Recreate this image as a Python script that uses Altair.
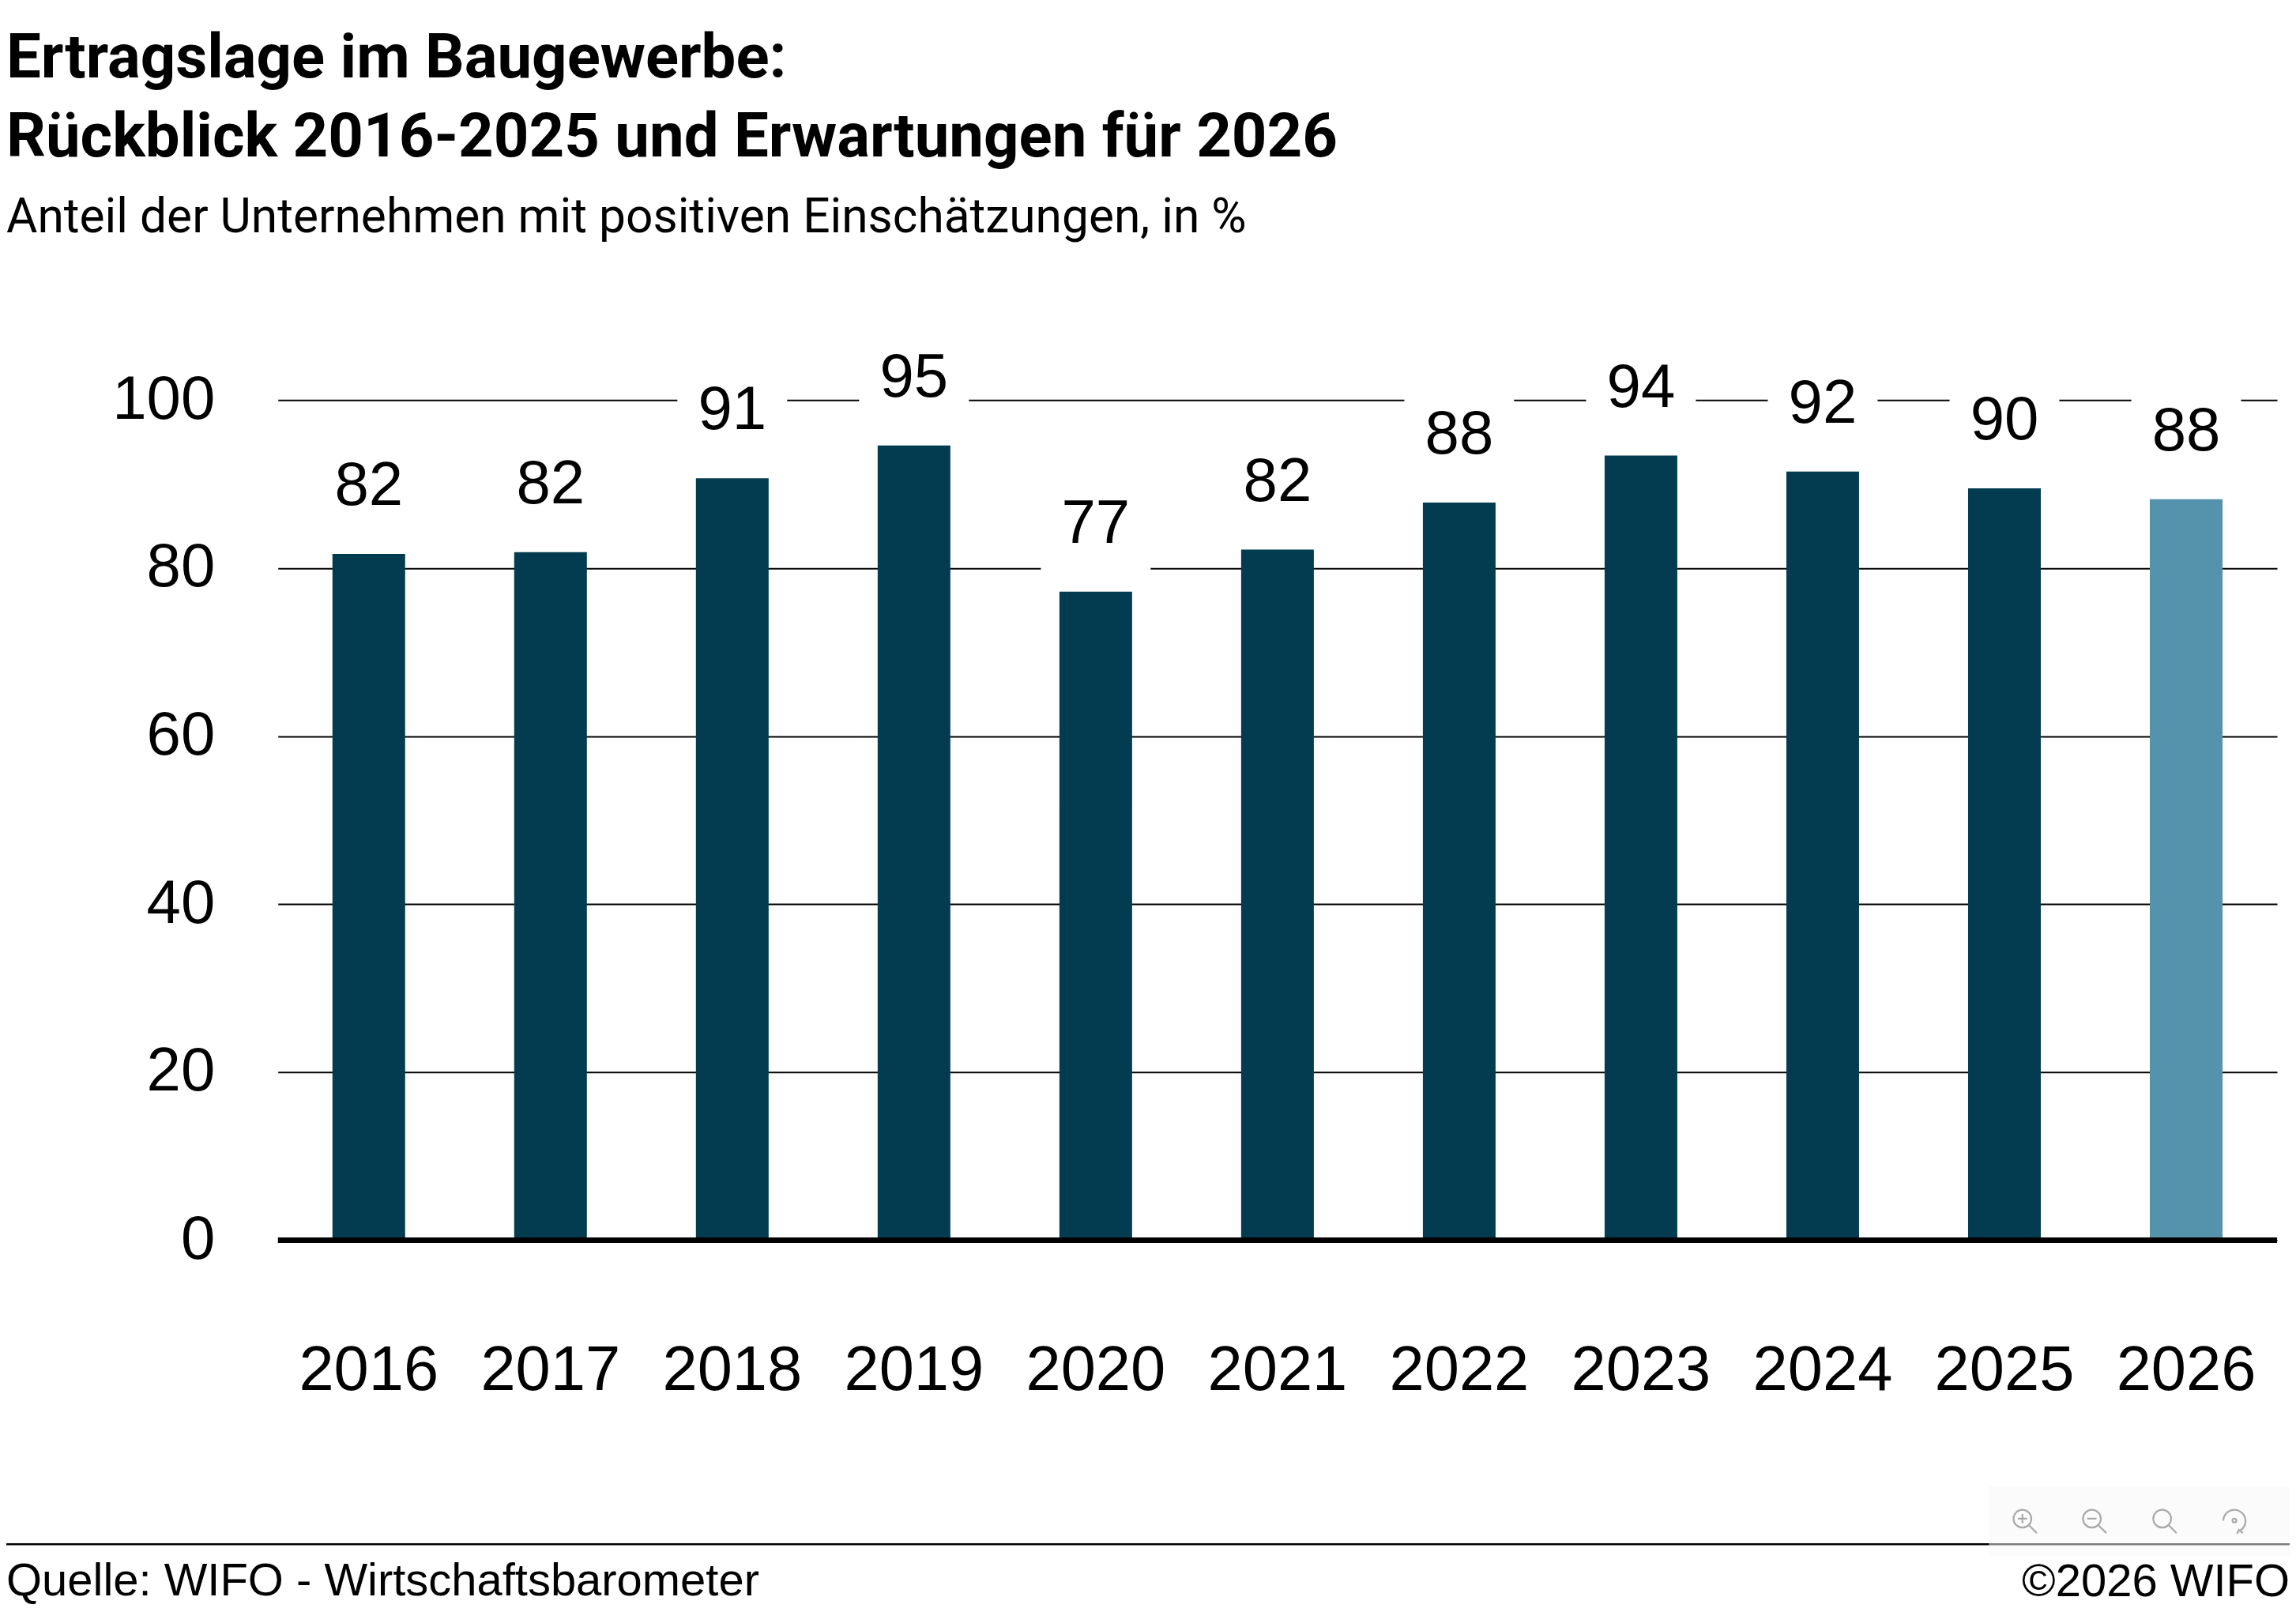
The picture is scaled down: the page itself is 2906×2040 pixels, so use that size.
import altair as alt
import pandas as pd

years = ["2016","2017","2018","2019","2020","2021","2022","2023","2024","2025","2026"]
values = [81.7,81.9,90.7,94.6,77.2,82.2,87.8,93.4,91.5,89.5,88.2]
labels = ["82","82","91","95","77","82","88","94","92","90","88"]
kinds = ["Rückblick"]*10 + ["Erwartung"]
title_lines = ["Ertragslage im Baugewerbe:", "Rückblick 2016-2025 und Erwartungen für 2026"]
subtitle = "Anteil der Unternehmen mit positiven Einschätzungen, in %"
source = "Quelle: WIFO - Wirtschaftsbarometer"
copyright_text = "©2026 WIFO"

FONT = "Liberation Sans"
TFONT = "Roboto"
PLOT_W, PLOT_H = 2532, 1064
LEFT = 344
DARK, LIGHT = "#033c50", "#5592ab"

df = pd.DataFrame({"year": years, "value": values, "label": labels, "kind": kinds})

x = alt.X("year:N", title=None, sort=years,
          scale=alt.Scale(paddingInner=0.6, paddingOuter=0.3),
          axis=alt.Axis(domain=False, ticks=False, labelAngle=0, labelFont=FONT, labelFontSize=79.5,
                        labelColor="black", labelPadding=126, labelBaseline="top", labelOverlap=False))
y = alt.Y("value:Q", title=None, scale=alt.Scale(domain=[0, 100]),
          axis=alt.Axis(values=[0,20,40,60,80,100], domain=False, ticks=False, labelFont=FONT, labelFontSize=78,
                        labelColor="black", labelPadding=80, grid=True, gridColor="black", gridWidth=2))

base = alt.Chart(df)
bars = base.mark_bar(clip=False).encode(
    x=x, y=y,
    color=alt.Color("kind:N", legend=None,
                    scale=alt.Scale(domain=["Rückblick","Erwartung"], range=[DARK, LIGHT])))
halo = base.mark_square(size=19321, color="white", opacity=1, yOffset=-87).encode(
    x=alt.X("year:N", sort=years), y=alt.Y("value:Q"))
text = base.mark_text(font=FONT, fontSize=78, color="black", dy=-85, baseline="middle").encode(
    x=alt.X("year:N", sort=years), y=alt.Y("value:Q"), text="label:N")
zero = alt.Chart(pd.DataFrame({"z": [0]})).mark_rule(color="black", strokeWidth=7).encode(y="z:Q")

rule = alt.Chart(pd.DataFrame({"t": [source]})).mark_rule(color="black", strokeWidth=2.5).encode(
    x=alt.value(-LEFT), x2=alt.value(2548), y=alt.value(1449))
src = alt.Chart(pd.DataFrame({"t": [source]})).mark_text(font=FONT, fontSize=58, color="black", align="left", baseline="alphabetic").encode(
    x=alt.value(-LEFT), y=alt.value(1514), text="t:N")
cpr = alt.Chart(pd.DataFrame({"t": [copyright_text]})).mark_text(font=FONT, fontSize=58, color="black", align="right", baseline="alphabetic").encode(
    x=alt.value(2548), y=alt.value(1515), text="t:N")
box = alt.Chart(pd.DataFrame({"t": ["toolbar"]})).mark_rect(fill="#f7f7f7", opacity=0.5).encode(
    x=alt.value(2167), x2=alt.value(2548), y=alt.value(1376), y2=alt.value(1464))

ring = "M0.53,-0.15A0.68,0.68,0,1,1,-0.83,-0.15A0.68,0.68,0,1,1,0.53,-0.15Z"
handle = "M0.35,0.35L0.95,0.95"
icons = {
    "zoom-in": ring + handle + "M-0.5,-0.15L0.2,-0.15M-0.15,-0.5L-0.15,0.2",
    "zoom-out": ring + handle + "M-0.5,-0.15L0.2,-0.15",
    "zoom-reset": ring + handle,
    "rotate": "M-0.85,0.0A0.85,0.85,0,1,1,0.35,0.8M0.2,1.0L0.35,0.7L0.65,0.95M0.15,0A0.15,0.15,0,1,1,-0.15,0A0.15,0.15,0,1,1,0.15,0Z",
}
icon_x = [2212, 2300, 2389, 2478]
icon_layers = [
    alt.Chart(pd.DataFrame({"n": [name]})).mark_point(shape=path, size=1100, filled=False, stroke="#aaaaaa", strokeWidth=2.2, opacity=1).encode(
        x=alt.value(px), y=alt.value(1419))
    for (name, path), px in zip(icons.items(), icon_x)
]

chart = alt.layer(bars, halo, text, zero, rule, src, cpr, box, *icon_layers).properties(
    width=PLOT_W, height=PLOT_H,
    padding={"left": LEFT, "top": 498, "right": 16, "bottom": 462},
    autosize=alt.AutoSizeParams(type="none"),
    background="white",
    title=alt.TitleParams(text=title_lines, subtitle=subtitle, anchor="start", frame="group", dx=-LEFT,
                          font=TFONT, fontSize=78, fontWeight="bold", color="black", lineHeight=100,
                          subtitleFont=TFONT, subtitleFontSize=60.5, subtitleColor="black", subtitlePadding=32,
                          offset=101),
).configure_view(stroke=None)

chart.save("out.html", embed_options={"renderer": "svg", "actions": False})
